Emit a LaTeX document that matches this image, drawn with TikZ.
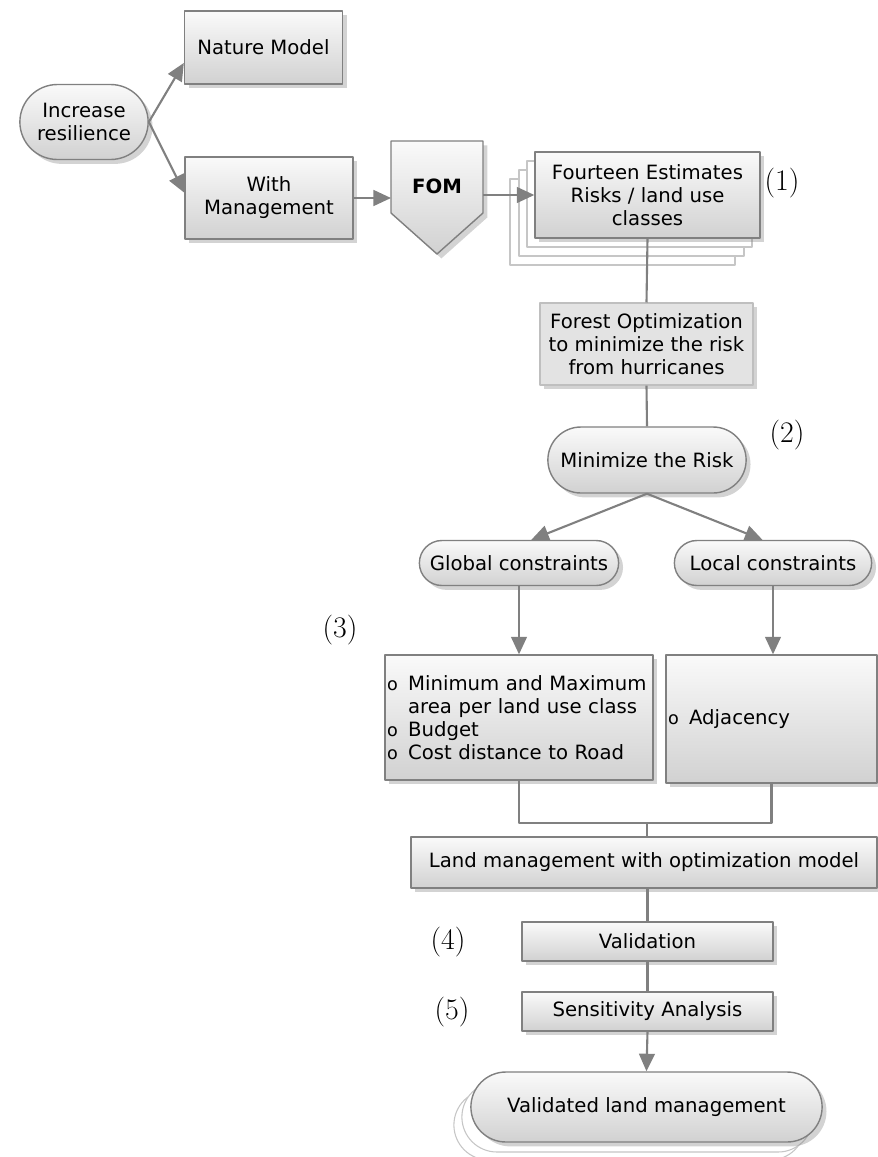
\documentclass[tikz,border=0pt]{standalone}
\usepackage{fontspec}
\newfontfamily\verd{DejaVu Sans}
\usetikzlibrary{arrows.meta,shapes.misc,shadows}
\newcommand{\itm}{\makebox[12pt][l]{\fontsize{10}{10}\selectfont o}}
\newcommand{\noitm}{\makebox[12pt][l]{}}

\begin{document}
\begin{tikzpicture}[x=0.02cm,y=-0.02cm,line join=round,
  font=\verd\fontsize{11.2}{13.1}\selectfont,>={Triangle[length=10pt,width=9pt]},
  box/.style={draw=gray,line width=0.8pt,top color=black!2,bottom color=black!18,
    drop shadow={opacity=0.35,shadow xshift=2.5pt,shadow yshift=-2.5pt}},
  pill/.style={box,rounded rectangle},
  flatbox/.style={draw=gray!50,line width=0.6pt,fill=black!11,
    drop shadow={opacity=0.35,shadow xshift=2.5pt,shadow yshift=-2.5pt}},
  stackline/.style={draw=gray!45,line width=0.6pt,fill=white},
  conn/.style={draw=gray,line width=1.2pt},
  num/.style={font=\rmfamily\fontsize{17}{20}\selectfont}]
\useasboundingbox (0,0) rectangle (878,1157);

% start and the two branches
\node[pill,minimum width=2.8cm,minimum height=1.5cm,align=center] (inc) at (84,122) {Increase\\resilience};
\node[box,minimum width=3.16cm,minimum height=1.46cm] (nature) at (263.5,47.5) {Nature Model};
\node[box,minimum width=3.36cm,minimum height=1.64cm,align=center] (withm) at (269,198) {With\\Management};

% FOM
\path[box] (391,141)--(483,141)--(483,213)--(437,254)--(391,213)--cycle;
\node[font=\verd\bfseries\fontsize{11.2}{13.1}\selectfont] (fom) at (437,186) {FOM};
\coordinate (fomin) at (391,198);
\coordinate (fomout) at (483,195);

% estimates (stacked)
\foreach \dx/\dy in {25/27,16/18,8/9}
  \draw[stackline] (535-\dx,152+\dy) rectangle (760-\dx,238+\dy);
\node[box,minimum width=4.5cm,minimum height=1.72cm,align=center] (est) at (647.5,195) {Fourteen Estimates\\Risks / land use\\classes};
\node[num] (n1) at (782,183) {(1)};

\node[flatbox,minimum width=4.26cm,minimum height=1.64cm,align=center] (forest) at (646.5,344) {Forest Optimization\\to minimize the risk\\from hurricanes};
\node[pill,minimum width=4.2cm,minimum height=1.32cm] (minr) at (647,460) {Minimize the Risk};
\node[num] (n2) at (787,435) {(2)};

% constraints
\node[pill,minimum width=4.22cm,minimum height=0.9cm] (glob) at (519,563) {Global constraints};
\node[pill,minimum width=4.18cm,minimum height=0.9cm] (loc) at (773,563) {Local constraints};
\node[num] (n3) at (340,630) {(3)};
\node[box,minimum width=5.36cm,minimum height=2.5cm,text width=5.28cm,inner xsep=1pt,align=left] (gbox) at (519,717.5)
  {\itm Minimum and Maximum\\\noitm area per land use class\\\itm Budget\\\itm Cost distance to Road};
\node[box,minimum width=4.22cm,minimum height=2.56cm,text width=4.14cm,inner xsep=1pt,align=left] (adj) at (771.5,719) {\itm Adjacency};

% model and checks
\node[box,minimum width=9.32cm,minimum height=1.02cm] (land) at (644,862.5) {Land management with optimization model};
\node[box,minimum width=5.02cm,minimum height=0.78cm] (valid) at (647.5,941.5) {Validation};
\node[num] (n4) at (448,942) {(4)};
\node[box,minimum width=5.02cm,minimum height=0.78cm] (sens) at (647.5,1011.5) {Sensitivity Analysis};
\node[num] (n5) at (452,1012) {(5)};

% result (stacked)
\foreach \dx/\dy in {17/18,9/10}
  \node[stackline,rounded rectangle,minimum width=7.26cm,minimum height=1.4cm] (vb\dx) at (646.5-\dx,1107+\dy) {};
\node[pill,minimum width=7.26cm,minimum height=1.4cm] (vlm) at (646.5,1107) {Validated land management};

% connectors
\draw[conn,->] (inc.east) -- ([yshift=-8.8pt]nature.west);
\draw[conn,->] (inc.east) -- ([yshift=3pt]withm.west);
\draw[conn,->] (withm.east) -- (fomin);
\draw[conn,->] (fomout) -- (est.west);
\draw[conn] (est.south) -- (forest.north);
\draw[conn] (forest.south) -- (minr.north);
\draw[conn,->] (minr.south) -- ([xshift=7pt]glob.north);
\draw[conn,->] (minr.south) -- ([xshift=-6pt]loc.north);
\draw[conn,->] (glob.south) -- (gbox.north);
\draw[conn,->] (loc.south) -- (loc.south |- adj.north);
\coordinate (join) at (647,823);
\draw[conn] (gbox.south) |- (join) -| (adj.south);
\draw[conn] (join) -- (join |- land.north);
\draw[conn] (valid.north |- land.south) -- (valid.north);
\draw[conn] (valid.south) -- (sens.north);
\draw[conn,->] (sens.south) -- (vlm.north);
\end{tikzpicture}
\end{document}
